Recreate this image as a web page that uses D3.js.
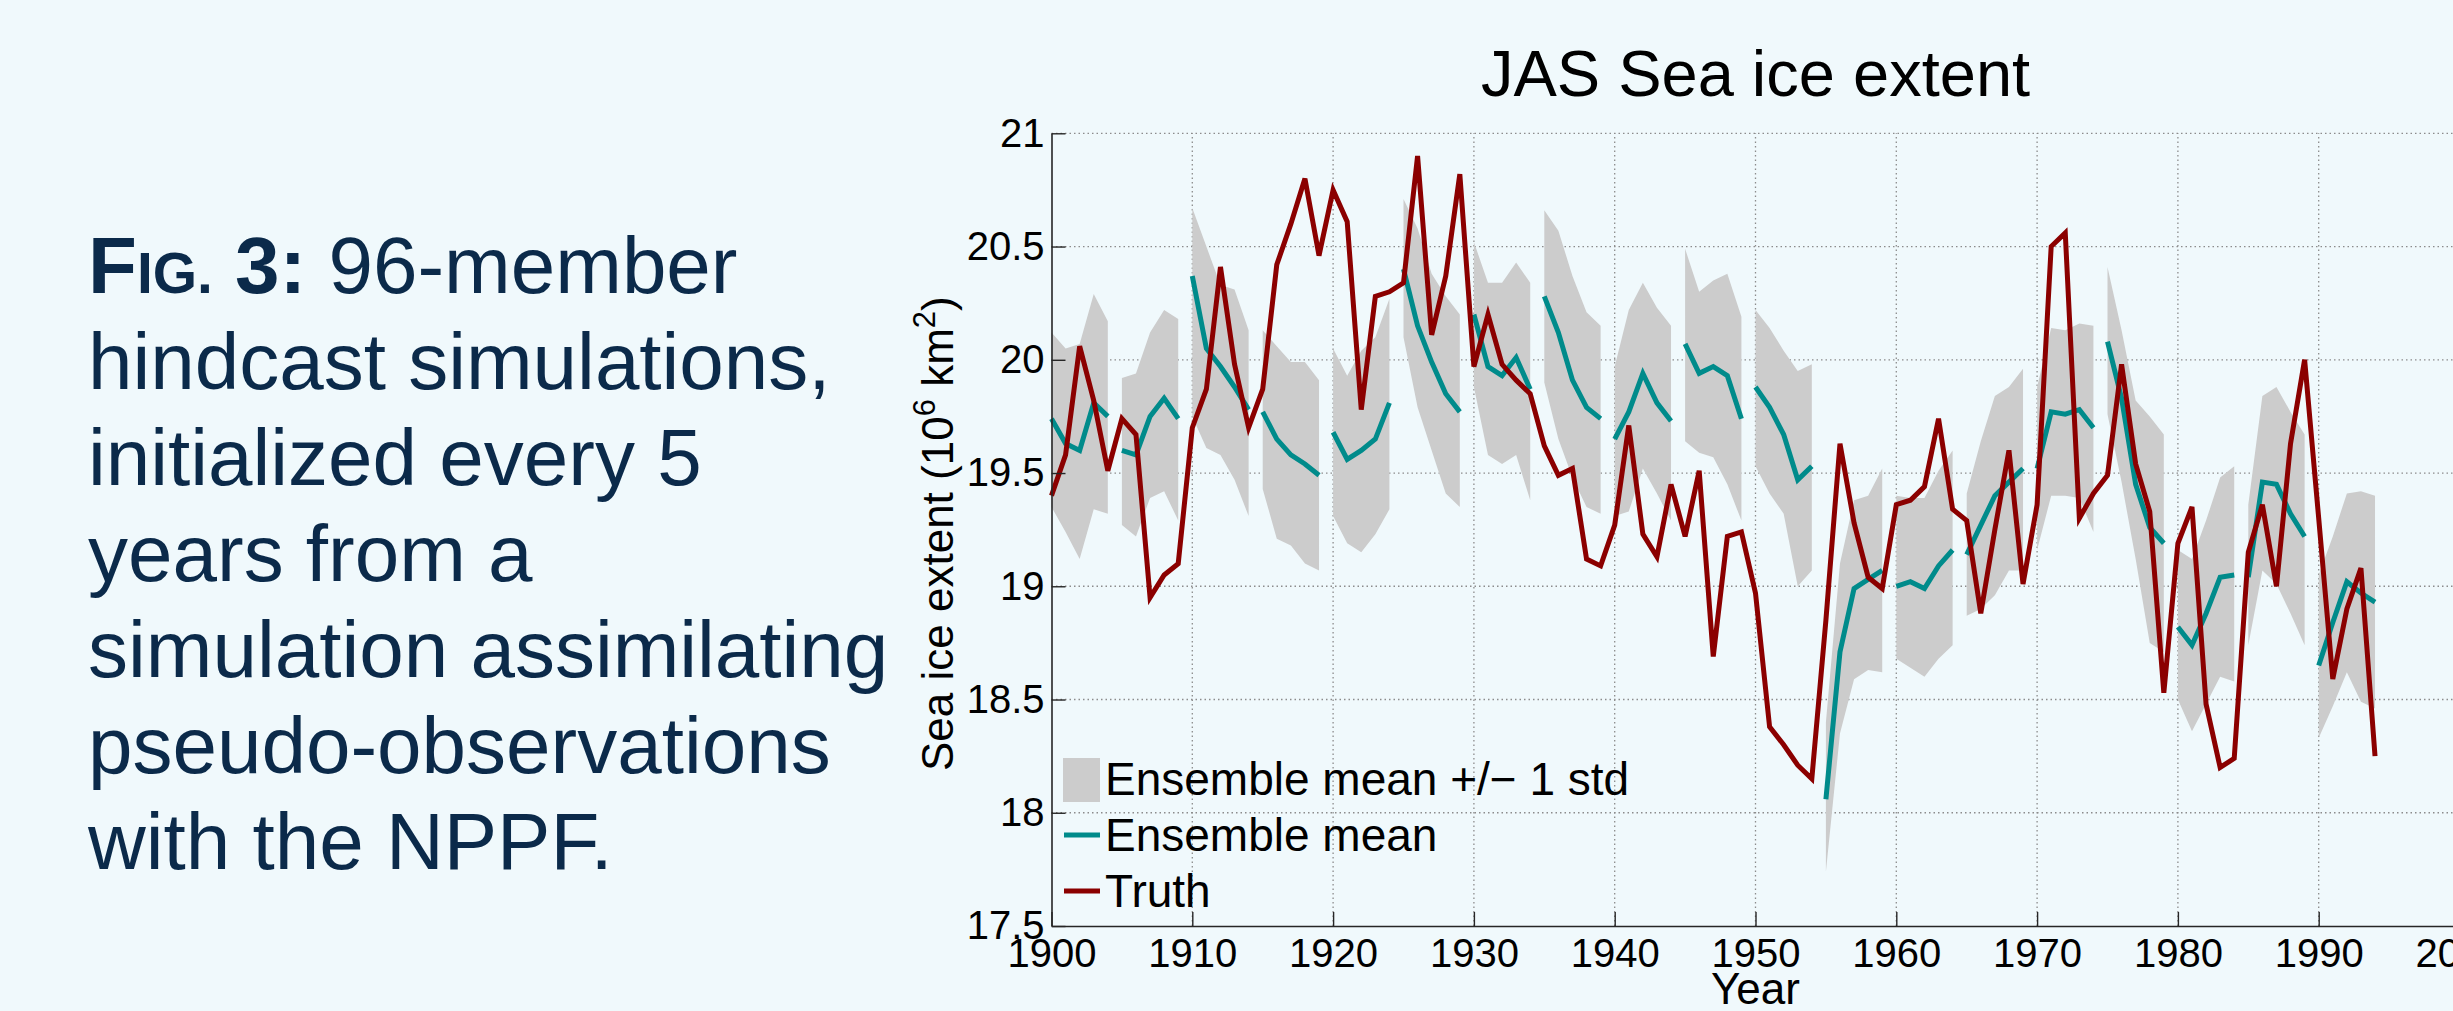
<!DOCTYPE html>
<html>
<head>
<meta charset="utf-8">
<script src="https://cdn.jsdelivr.net/npm/d3@7"></script>
<style>
  html, body { margin: 0; padding: 0; background: #f0f9fc; overflow: hidden; }
  svg { display: block; font-family: "Liberation Sans", Arial, Helvetica, sans-serif; }
</style>
</head>
<body>
<div id="figure"></div>
<script>
// years covered by the truth run and the hindcasts
const years = d3.range(1900, 1995);
// each hindcast is initialized every 5 years and runs for 5 years
const hindcastStarts = [1900, 1905, 1910, 1915, 1920, 1925, 1930, 1935, 1940, 1945,
  1950, 1955, 1960, 1965, 1970, 1975, 1980, 1985, 1990];

// Truth (pseudo-observations), 1900-1994
const truth = [
  19.40, 19.58, 20.06, 19.82, 19.51, 19.74, 19.67, 18.95, 19.05, 19.10,
  19.70, 19.87, 20.41, 19.98, 19.70, 19.87, 20.42, 20.60, 20.80, 20.46,
  20.75, 20.61, 19.78, 20.28, 20.30, 20.34, 20.90, 20.11, 20.37, 20.82,
  19.97, 20.20, 19.98, 19.91, 19.85, 19.62, 19.49, 19.52, 19.12, 19.09,
  19.27, 19.71, 19.23, 19.13, 19.45, 19.22, 19.51, 18.69, 19.22, 19.24,
  18.97, 18.38, 18.30, 18.21, 18.15, 18.85, 19.63, 19.28, 19.04, 18.99,
  19.36, 19.38, 19.44, 19.74, 19.34, 19.29, 18.88, 19.25, 19.60, 19.01,
  19.36, 20.50, 20.56, 19.30, 19.41, 19.49, 19.98, 19.54, 19.33, 18.53,
  19.19, 19.35, 18.48, 18.20, 18.24, 19.15, 19.36, 19.00, 19.63, 20.00,
  19.30, 18.59, 18.90, 19.08, 18.25
];

// Ensemble mean of the hindcasts, 1900-1994
const ensembleMean = [
  19.74, 19.63, 19.60, 19.81, 19.75, 19.60, 19.58, 19.75, 19.83, 19.74,
  20.37, 20.05, 19.97, 19.88, 19.78, 19.77, 19.65, 19.58, 19.54, 19.49,
  19.68, 19.56, 19.60, 19.65, 19.81, 20.40, 20.15, 19.99, 19.85, 19.77,
  20.20, 19.97, 19.93, 20.01, 19.87, 20.28, 20.12, 19.91, 19.79, 19.74,
  19.65, 19.77, 19.94, 19.81, 19.73, 20.07, 19.94, 19.97, 19.93, 19.74,
  19.88, 19.79, 19.67, 19.47, 19.53, 18.06, 18.71, 18.99, 19.03, 19.07,
  19.00, 19.02, 18.99, 19.09, 19.16, 19.14, 19.27, 19.40, 19.46, 19.52,
  19.52, 19.77, 19.76, 19.78, 19.70, 20.08, 19.83, 19.45, 19.26, 19.19,
  18.82, 18.74, 18.88, 19.04, 19.05, 19.04, 19.46, 19.45, 19.32, 19.22,
  18.65, 18.84, 19.02, 18.97, 18.93
];

// Ensemble mean + 1 std
const ensembleUpper = [
  20.12, 20.05, 20.07, 20.29, 20.17, 19.92, 19.94, 20.12, 20.22, 20.18,
  20.67, 20.50, 20.33, 20.31, 20.13, 20.13, 20.06, 19.99, 19.99, 19.91,
  20.05, 19.93, 20.04, 20.10, 20.27, 20.71, 20.58, 20.38, 20.28, 20.20,
  20.52, 20.34, 20.34, 20.43, 20.34, 20.66, 20.57, 20.37, 20.21, 20.15,
  19.97, 20.22, 20.34, 20.23, 20.15, 20.49, 20.30, 20.35, 20.38, 20.19,
  20.22, 20.14, 20.04, 19.95, 19.98, 18.40, 19.10, 19.38, 19.40, 19.52,
  19.40, 19.39, 19.39, 19.51, 19.60, 19.41, 19.64, 19.84, 19.88, 19.96,
  19.88, 20.14, 20.13, 20.16, 20.15, 20.41, 20.13, 19.82, 19.75, 19.67,
  19.16, 19.12, 19.29, 19.48, 19.53, 19.36, 19.84, 19.88, 19.77, 19.67,
  19.05, 19.22, 19.41, 19.42, 19.40
];

// Ensemble mean - 1 std
const ensembleLower = [
  19.35, 19.24, 19.12, 19.34, 19.32, 19.27, 19.22, 19.39, 19.42, 19.29,
  19.75, 19.61, 19.58, 19.47, 19.31, 19.43, 19.21, 19.18, 19.10, 19.07,
  19.31, 19.19, 19.15, 19.23, 19.34, 20.10, 19.79, 19.60, 19.41, 19.35,
  19.88, 19.58, 19.54, 19.58, 19.38, 19.90, 19.65, 19.48, 19.35, 19.32,
  19.31, 19.33, 19.52, 19.41, 19.29, 19.64, 19.59, 19.57, 19.45, 19.29,
  19.53, 19.41, 19.32, 19.00, 19.07, 17.74, 18.35, 18.59, 18.63, 18.62,
  18.68, 18.64, 18.60, 18.68, 18.74, 18.87, 18.90, 18.96, 19.07, 19.07,
  19.16, 19.40, 19.40, 19.39, 19.24, 19.76, 19.46, 19.12, 18.75, 18.71,
  18.50, 18.36, 18.48, 18.60, 18.58, 18.74, 19.07, 19.01, 18.88, 18.74,
  18.33, 18.47, 18.62, 18.49, 18.46
];

const xTicks = [1900, 1910, 1920, 1930, 1940, 1950, 1960, 1970, 1980, 1990, 2000];
const yTicks = [17.5, 18, 18.5, 19, 19.5, 20, 20.5, 21];

const captionLines = [
  "hindcast simulations,",
  "initialized every 5",
  "years from a",
  "simulation assimilating",
  "pseudo-observations",
  "with the NPPF."
];

const legendLabels = ["Ensemble mean +/\u2212 1 std", "Ensemble mean", "Truth"];

const colors = {
  band: "#cccccc",
  mean: "#008b8b",
  truth: "#8b0000",
  grid: "#8c8c8c",
  axis: "#262626",
  caption: "#0b2a4a"
};

const width = 2453;
const height = 1011;
const plotArea = { left: 1051.5, right: 2459.5, top: 133.3, bottom: 926 };

let svg = d3
  .select("#figure")
  .append("svg")
  .attr("width", width)
  .attr("height", height);

svg.append("rect")
  .attr("width", width)
  .attr("height", height)
  .attr("fill", "#f0f9fc");

// Set scales
let xScale = d3.scaleLinear()
  .domain([1900, 2000])
  .range([plotArea.left, plotArea.right]);
let yScale = d3.scaleLinear()
  .domain([17.5, 21])
  .range([plotArea.bottom, plotArea.top]);

// Caption on the left
let caption = svg.append("text")
  .attr("x", 88)
  .attr("y", 293)
  .attr("fill", colors.caption)
  .style("font-size", "80px");
caption.append("tspan").attr("font-weight", "bold").text("F");
caption.append("tspan").attr("font-weight", "bold").style("font-size", "57px").text("IG.");
caption.append("tspan").attr("font-weight", "bold").text(" 3:");
caption.append("tspan").text(" 96-member");
captionLines.forEach((line, i) => {
  svg.append("text")
    .attr("x", 88)
    .attr("y", 293 + (i + 1) * 96)
    .attr("fill", colors.caption)
    .style("font-size", "80px")
    .text(line);
});

// Dotted grid
let grid = svg.append("g").attr("class", "grid");
grid.selectAll(".vgrid")
  .data(xTicks.filter(d => d > 1900))
  .enter()
  .append("line")
  .attr("class", "vgrid")
  .attr("x1", d => xScale(d))
  .attr("x2", d => xScale(d))
  .attr("y1", yScale(17.5))
  .attr("y2", yScale(21));
grid.selectAll(".hgrid")
  .data(yTicks.filter(d => d > 17.5))
  .enter()
  .append("line")
  .attr("class", "hgrid")
  .attr("x1", xScale(1900))
  .attr("x2", xScale(2000))
  .attr("y1", d => yScale(d))
  .attr("y2", d => yScale(d));
grid.selectAll("line")
  .attr("stroke", colors.grid)
  .attr("stroke-width", 1.3)
  .attr("stroke-dasharray", "1.5,3");

// one record per hindcast year
let records = years.map((yr, i) => ({
  year: yr,
  mean: ensembleMean[i],
  upper: ensembleUpper[i],
  lower: ensembleLower[i]
}));
let segments = hindcastStarts.map(s => records.filter(r => r.year >= s && r.year < s + 5));

let area = d3.area()
  .x(d => xScale(d.year))
  .y0(d => yScale(d.lower))
  .y1(d => yScale(d.upper));
let meanLine = d3.line()
  .x(d => xScale(d.year))
  .y(d => yScale(d.mean));

// +/- 1 std bands
svg.append("g")
  .selectAll(".band")
  .data(segments)
  .enter()
  .append("path")
  .attr("class", "band")
  .attr("d", area)
  .attr("fill", colors.band);

// Ensemble mean
svg.append("g")
  .selectAll(".meanLine")
  .data(segments)
  .enter()
  .append("path")
  .attr("class", "meanLine")
  .attr("d", meanLine)
  .attr("fill", "none")
  .attr("stroke", colors.mean)
  .attr("stroke-width", 5);

// Truth
let truthLine = d3.line()
  .x((d, i) => xScale(years[i]))
  .y(d => yScale(d));
svg.append("path")
  .datum(truth)
  .attr("d", truthLine)
  .attr("fill", "none")
  .attr("stroke", colors.truth)
  .attr("stroke-width", 5)
  .attr("stroke-linejoin", "miter");

// Axes, ticks inside like MATLAB
let xAxis = d3.axisBottom(xScale)
  .tickValues(xTicks)
  .tickFormat(d3.format("d"))
  .tickSizeInner(-14)
  .tickSizeOuter(0)
  .tickPadding(13);
let yAxis = d3.axisLeft(yScale)
  .tickValues(yTicks)
  .tickFormat(d => String(d))
  .tickSizeInner(-14)
  .tickSizeOuter(0)
  .tickPadding(7);

let gx = svg.append("g")
  .attr("transform", `translate(0, ${plotArea.bottom})`)
  .call(xAxis);
let gy = svg.append("g")
  .attr("transform", `translate(${plotArea.left}, 0)`)
  .call(yAxis);
[gx, gy].forEach(g => {
  g.select(".domain").attr("stroke", colors.axis).attr("stroke-width", 1.6);
  g.selectAll(".tick line").attr("stroke", colors.axis).attr("stroke-width", 1.4);
  g.selectAll(".tick text")
    .attr("fill", "#000")
    .style("font-size", "40px")
    .style("font-family", "'Liberation Sans', Arial, sans-serif");
});

// Title
svg.append("text")
  .attr("x", (plotArea.left + plotArea.right) / 2)
  .attr("y", 96)
  .attr("text-anchor", "middle")
  .style("font-size", "65px")
  .text("JAS Sea ice extent");

// X label
svg.append("text")
  .attr("x", (plotArea.left + plotArea.right) / 2)
  .attr("y", 1004)
  .attr("text-anchor", "middle")
  .style("font-size", "44px")
  .text("Year");

// Y label with superscripts
let yLabel = svg.append("text")
  .attr("transform", `translate(953, ${(plotArea.top + plotArea.bottom) / 2 + 4}) rotate(-90)`)
  .attr("text-anchor", "middle")
  .style("font-size", "44px");
yLabel.append("tspan").text("Sea ice extent (10");
yLabel.append("tspan").attr("dy", -18).style("font-size", "31px").text("6");
yLabel.append("tspan").attr("dy", 18).text(" km");
yLabel.append("tspan").attr("dy", -18).style("font-size", "31px").text("2");
yLabel.append("tspan").attr("dy", 18).text(")");

// Legend
let legend = svg.append("g").attr("class", "legend");
legend.append("rect")
  .attr("x", 1063)
  .attr("y", 758)
  .attr("width", 37)
  .attr("height", 44)
  .attr("fill", colors.band);
legend.append("line")
  .attr("x1", 1064).attr("x2", 1100)
  .attr("y1", 835).attr("y2", 835)
  .attr("stroke", colors.mean)
  .attr("stroke-width", 5);
legend.append("line")
  .attr("x1", 1064).attr("x2", 1100)
  .attr("y1", 891).attr("y2", 891)
  .attr("stroke", colors.truth)
  .attr("stroke-width", 5);
legend.selectAll(".legend-label")
  .data(legendLabels)
  .enter()
  .append("text")
  .attr("class", "legend-label")
  .attr("x", 1105)
  .attr("y", (d, i) => 795 + i * 56)
  .style("font-size", "46px")
  .text(d => d);
</script>
</body>
</html>
